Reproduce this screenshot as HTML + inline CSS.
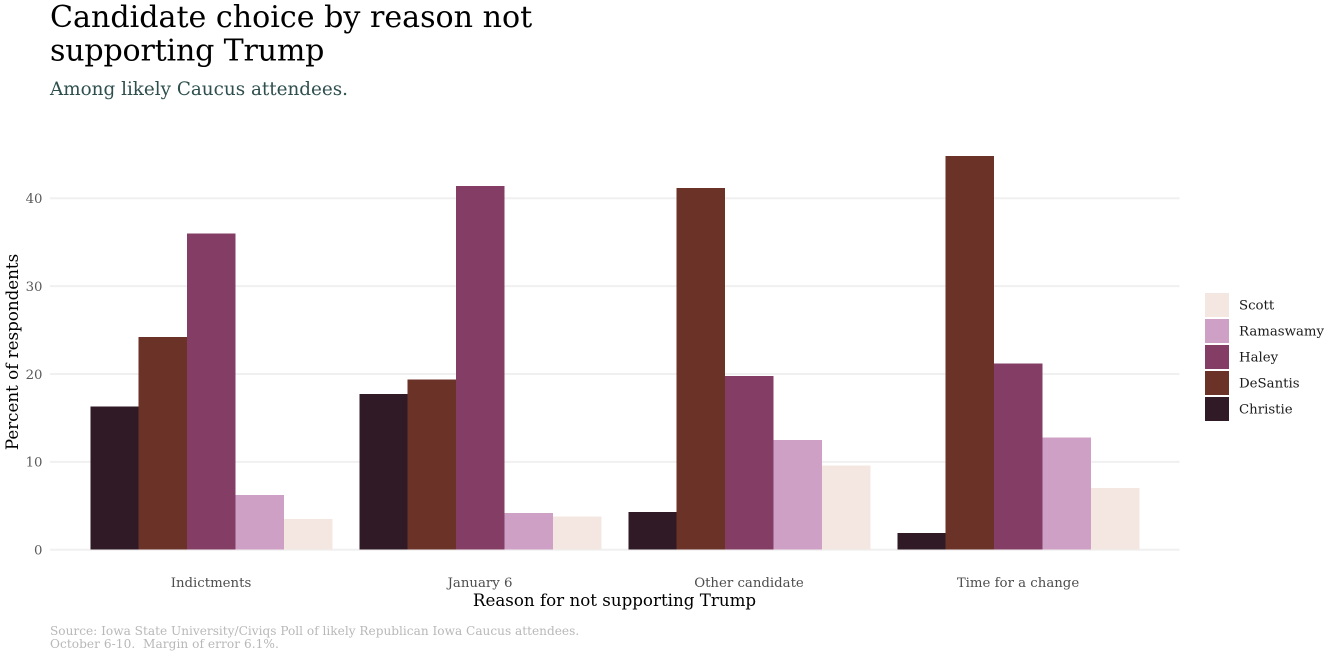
<!DOCTYPE html>
<html>
<head>
<meta charset="utf-8">
<style>
html,body{margin:0;padding:0;background:#fff;width:1334px;height:657px;overflow:hidden}
svg{display:block}
text{font-family:"DejaVu Serif",serif}
</style>
</head>
<body>
<svg id="chart" width="1334" height="657" viewBox="0 0 1334 657" xmlns="http://www.w3.org/2000/svg">
<text x="50" y="27" font-size="30.1" fill="#000">Candidate choice by reason not</text>
<text x="50" y="60.5" font-size="30.1" letter-spacing="-0.2" fill="#000">supporting Trump</text>
<text x="50" y="95" font-size="18.35" fill="#2f4f4f">Among likely Caucus attendees.</text>
<g id="grid"></g>
<g id="bars" shape-rendering="crispEdges"></g>
<g id="yticks"></g>
<g id="xticks"></g>
<text x="614.5" y="606" font-size="16.7" text-anchor="middle" fill="#000">Reason for not supporting Trump</text>
<text transform="translate(18,352) rotate(-90)" font-size="16.7" text-anchor="middle" fill="#000">Percent of respondents</text>
<g id="legend"></g>
<text x="50" y="635" font-size="12.13" fill="#b8b8b8">Source: Iowa State University/Civiqs Poll of likely Republican Iowa Caucus attendees.</text>
<text x="50" y="648" font-size="12.13" letter-spacing="0.05" fill="#b8b8b8" xml:space="preserve">October 6-10.  Margin of error 6.1%.</text>
</svg>
<script>
const categories = ["Indictments", "January 6", "Other candidate", "Time for a change"];
const candidates = ["Christie", "DeSantis", "Haley", "Ramaswamy", "Scott"];
const christie = [16.3, 17.7, 4.3, 1.9];
const desantis = [24.2, 19.4, 41.2, 44.8];
const haley = [36.0, 41.4, 19.8, 21.2];
const ramaswamy = [6.2, 4.2, 12.5, 12.8];
const scott = [3.5, 3.8, 9.6, 7.0];
const yTickValues = [0, 10, 20, 30, 40];
const legendOrder = ["Scott", "Ramaswamy", "Haley", "DeSantis", "Christie"];

const seriesValues = [christie, desantis, haley, ramaswamy, scott];
const fills = {Christie:"#2f1a26", DeSantis:"#6b3228", Haley:"#843e66", Ramaswamy:"#cfa0c6", Scott:"#f4e7e2"};
const NS = "http://www.w3.org/2000/svg";
const plotLeft = 50, plotRight = 1179.5;
const y0 = 549.7, yPerUnit = 8.785;
const xFirst = 211.3, xStep = 269, barWidth = 48.4;
const yScale = v => y0 - v * yPerUnit;
const xCenter = i => xFirst + i * xStep;
const barX = (c, s) => xCenter(c) - barWidth * candidates.length / 2 + s * barWidth;

function make(tag, parent, attrs, text) {
  const el = document.createElementNS(NS, tag);
  for (const k in attrs) el.setAttribute(k, attrs[k]);
  if (text !== undefined) el.textContent = text;
  parent.appendChild(el);
  return el;
}
const grid = document.getElementById("grid");
const yticks = document.getElementById("yticks");
yTickValues.forEach(v => {
  const line = make("line", grid, {x1: plotLeft, x2: plotRight, y1: yScale(v), y2: yScale(v), stroke: "#f0f0f0", "stroke-width": 2});
  
  
  const label = make("text", yticks, {x: 42.5, y: yScale(v) + 4.8, "font-size": 13.3, "text-anchor": "end", fill: "#595959"}, String(v));
  
  
});
const barsGroup = document.getElementById("bars");
candidates.forEach((name, s) => {
  seriesValues[s].forEach((v, c) => {
    const bar = make("rect", barsGroup, {x: barX(c, s), y: yScale(v), width: barWidth, height: y0 - yScale(v), fill: fills[name]});
    
    
  });
});
const xticks = document.getElementById("xticks");
categories.forEach((cat, i) => {
  const label = make("text", xticks, {x: xCenter(i) - 0.3, y: 587, "font-size": 13.3, "text-anchor": "middle", fill: "#4d4d4d"}, cat);
  
  
});
const legend = document.getElementById("legend");
legendOrder.forEach((name, i) => {
  const top = 293 + i * 26;
  const swatch = make("rect", legend, {x: 1205, y: top, width: 24, height: 24, fill: fills[name]});
  
  
  const label = make("text", legend, {x: 1239, y: top + 16.5, "font-size": 13.3, fill: "#1a1a1a"}, name);
  
  
});
</script>
</body>
</html>
